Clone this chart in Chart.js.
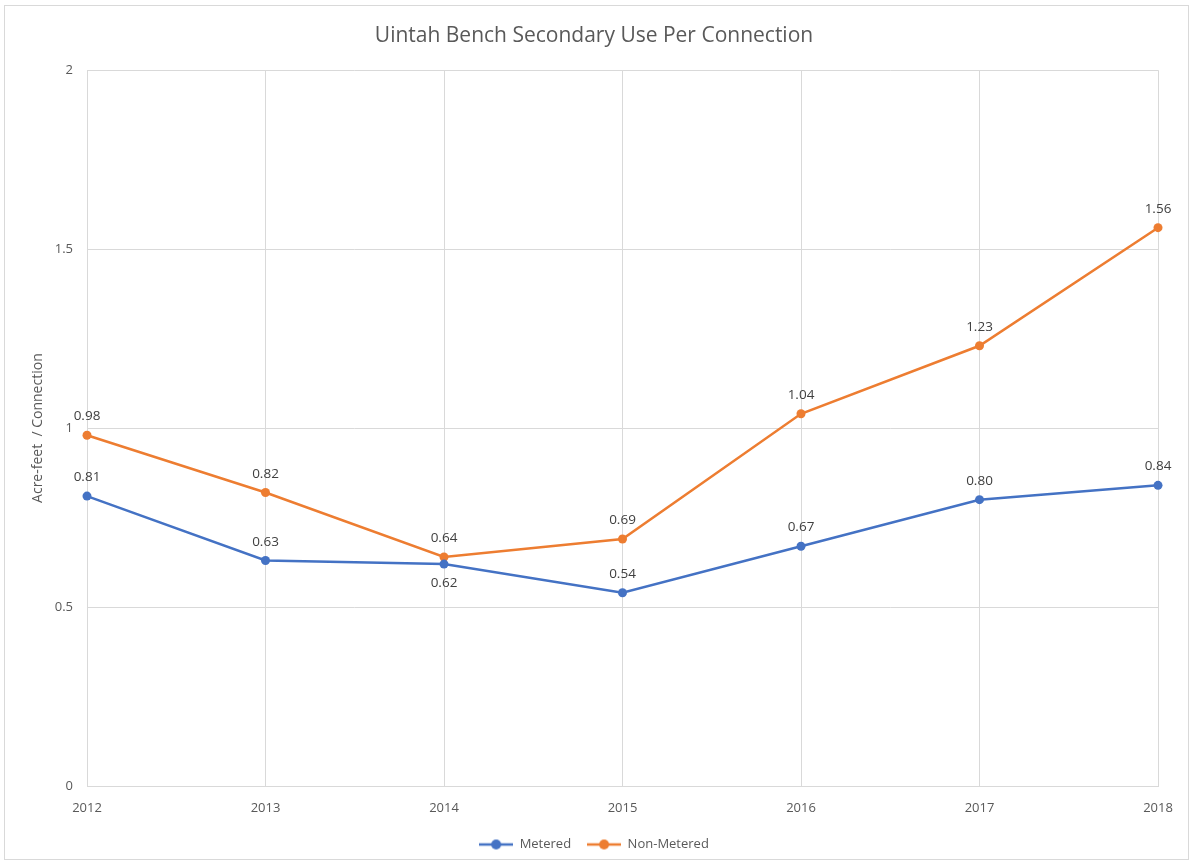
<!DOCTYPE html>
<html>
<head>
<meta charset="utf-8">
<script src="https://cdn.jsdelivr.net/npm/chart.js@4/dist/chart.umd.min.js"></script>
<style>
  html, body { margin: 0; padding: 0; background: #fff; }
  #wrap { width: 1193px; height: 863px; position: relative; }
</style>
</head>
<body>
<div id="wrap"><canvas id="chart"></canvas></div>
<script>
// ── DATA ───────────────────────────────────────────────────────────
const YEARS = ['2012', '2013', '2014', '2015', '2016', '2017', '2018'];
const METERED = [0.81, 0.63, 0.62, 0.54, 0.67, 0.80, 0.84];
const NON_METERED = [0.98, 0.82, 0.64, 0.69, 1.04, 1.23, 1.56];
// label sits below the point for these indexes (metered series)
const METERED_BELOW = [2];

const BLUE = '#4472c4';
const ORANGE = '#ed7d31';
const TEXT = '#595959';
const GRID = '#d9d9d9';
const FONT = "'Open Sans', 'Noto Sans', sans-serif";

// legend marker: short line with a dot in the middle
function legendMarker(color) {
  const c = document.createElement('canvas');
  c.width = 34; c.height = 12;
  const g = c.getContext('2d');
  g.strokeStyle = color;
  g.lineWidth = 2.5;
  g.beginPath(); g.moveTo(0, 6); g.lineTo(34, 6); g.stroke();
  g.fillStyle = color;
  g.beginPath(); g.arc(17, 6, 5, 0, Math.PI * 2); g.fill();
  return c;
}

// ── PLUGINS ────────────────────────────────────────────────────────
const frame = {
  id: 'frame',
  beforeDraw(chart) {
    const ctx = chart.ctx;
    ctx.save();
    ctx.strokeStyle = '#d9d9d9';
    ctx.lineWidth = 1;
    ctx.strokeRect(4.5, 5.5, chart.width - 9, chart.height - 9);
    ctx.restore();
  }
};

const pointLabels = {
  id: 'pointLabels',
  afterDatasetsDraw(chart) {
    const ctx = chart.ctx;
    ctx.save();
    ctx.font = '13.5px ' + FONT;
    ctx.fillStyle = '#404040';
    ctx.textAlign = 'center';
    chart.data.datasets.forEach((ds, di) => {
      const meta = chart.getDatasetMeta(di);
      meta.data.forEach((pt, i) => {
        const below = di === 0 && METERED_BELOW.includes(i);
        ctx.textBaseline = below ? 'top' : 'bottom';
        const y = below ? pt.y + 12 : pt.y - 12;
        ctx.fillText(ds.data[i].toFixed(2), pt.x, y);
      });
    });
    ctx.restore();
  }
};

// ── CHART ──────────────────────────────────────────────────────────
const series = (label, data, color) => ({
  label,
  data,
  borderColor: color,
  backgroundColor: color,
  borderWidth: 2.5,
  pointRadius: 4.5,
  pointHoverRadius: 5,
  pointBackgroundColor: color,
  pointBorderWidth: 0,
  tension: 0,
  pointStyle: 'circle',
});

new Chart(document.getElementById('chart'), {
  type: 'line',
  data: {
    labels: YEARS,
    datasets: [
      series('Metered', METERED, BLUE),
      series('Non-Metered', NON_METERED, ORANGE),
    ]
  },
  options: {
    responsive: true,
    maintainAspectRatio: false,
    animation: false,
    layout: { padding: { top: 23, left: 30, right: 35, bottom: 2 } },
    plugins: {
      title: {
        display: true,
        text: 'Uintah Bench Secondary Use Per Connection',
        color: TEXT,
        font: { family: FONT, size: 21, weight: 'normal' },
        padding: { top: 0, bottom: 22 }
      },
      legend: {
        position: 'bottom',
        labels: {
          color: TEXT,
          font: { family: FONT, size: 13 },
          usePointStyle: true,
          pointStyleWidth: 34,
          padding: 16,
          generateLabels: (chart) => chart.data.datasets.map((ds, i) => ({
            text: ds.label,
            fontColor: TEXT,
            pointStyle: legendMarker(ds.borderColor),
            datasetIndex: i,
            hidden: false,
            lineWidth: 0,
            strokeStyle: 'transparent',
            fillStyle: ds.borderColor,
          }))
        }
      },
      tooltip: { enabled: false }
    },
    scales: {
      x: {
        offset: false,
        grid: { color: GRID, lineWidth: 1, drawTicks: false },
        border: { color: GRID },
        ticks: { color: TEXT, font: { family: FONT, size: 13 }, padding: 14, maxRotation: 0 },
        afterFit: (s) => { s.height = 36; }
      },
      y: {
        min: 0,
        max: 2,
        grid: { color: GRID, lineWidth: 1, drawTicks: false },
        border: { display: false },
        ticks: {
          stepSize: 0.5,
          color: TEXT,
          font: { family: FONT, size: 13 },
          padding: 14,
          callback: (v) => String(v)
        },
        title: {
          display: true,
          text: 'Acre-feet  / Connection',
          color: TEXT,
          font: { family: FONT, size: 14 },
          padding: { top: 0, bottom: 4 }
        },
        afterFit: (s) => { s.width = 57; }
      }
    }
  },
  plugins: [frame, pointLabels]
});
</script>
</body>
</html>
